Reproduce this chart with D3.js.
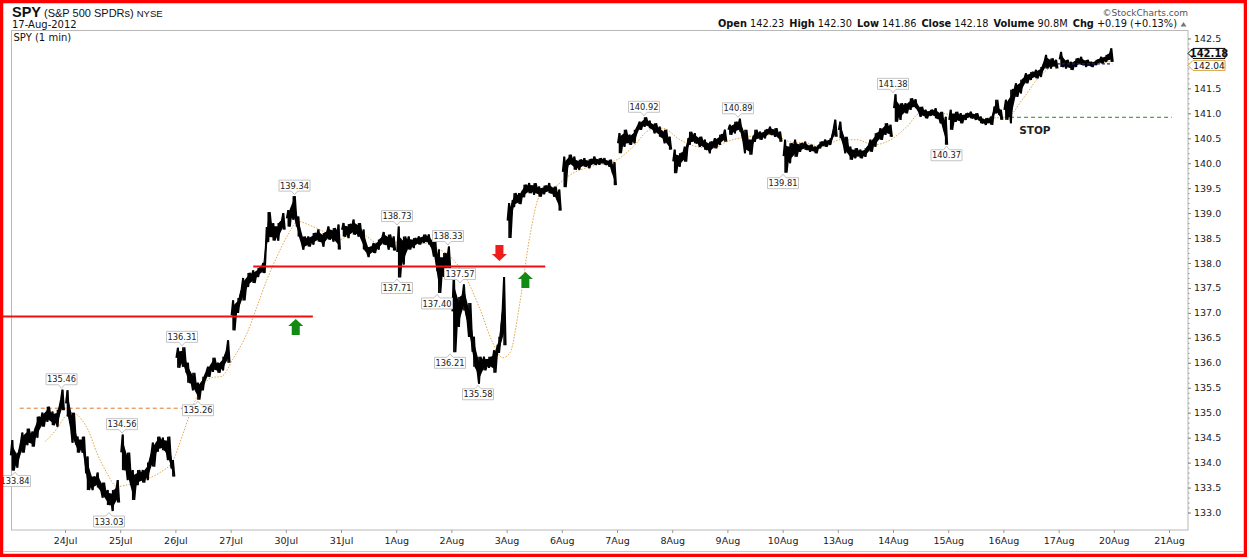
<!DOCTYPE html>
<html>
<head>
<meta charset="utf-8">
<script src="https://cdn.jsdelivr.net/npm/d3@7"></script>
<style>
  body { margin: 0; background: #fff; }
  svg { display: block; }
  text { font-family: "DejaVu Sans", Verdana, sans-serif; }
</style>
</head>
<body>
<svg id="chart" width="1247" height="557"></svg>
<script>
// trading sessions shown (first one is partly cut at the left edge)
const sessionNames = ['23Jul','24Jul','25Jul','26Jul','27Jul','30Jul','31Jul','1Aug','2Aug','3Aug',
  '6Aug','7Aug','8Aug','9Aug','10Aug','13Aug','14Aug','15Aug','16Aug','17Aug'];

// x axis labels, one per session boundary starting at 24Jul
const tickLabels = ['24Jul','25Jul','26Jul','27Jul','30Jul','31Jul','1Aug','2Aug','3Aug','6Aug','7Aug',
  '8Aug','9Aug','10Aug','13Aug','14Aug','15Aug','16Aug','17Aug','20Aug','21Aug'];

// 142.0 is hidden behind the last-value tags in the original, so it is left out
const priceTicks = [133.0,133.5,134.0,134.5,135.0,135.5,136.0,136.5,137.0,137.5,138.0,138.5,139.0,139.5,140.0,140.5,141.0,141.5,142.5];

// [high, low] for consecutive slices of each session
const sessions = [
  [[134.45,133.84],[134.2,133.9],[134.6,134.2],[134.68,134.35],[134.62,134.32],[134.92,134.5],[135.0,134.72],[135.12,134.82],[135.02,134.75],[135.06,134.72],[135.46,135.05]],
  [[135.45,134.92],[135.0,134.4],[134.52,134.2],[134.52,134.2],[134.12,133.45],[133.72,133.45],[133.8,133.5],[133.6,133.3],[133.45,133.15],[133.45,133.03],[133.65,133.2]],
  [[134.56,133.85],[134.2,133.65],[133.85,133.25],[133.85,133.55],[133.85,133.6],[134.0,133.65],[134.4,133.92],[134.52,134.22],[134.5,134.25],[134.52,134.05],[134.05,133.72]],
  [[136.3,135.9],[136.31,135.92],[136.0,135.6],[135.8,135.45],[135.6,135.26],[135.72,135.45],[135.92,135.72],[136.1,135.82],[136.0,135.8],[136.12,135.85],[136.45,136.0]],
  [[137.25,136.65],[137.3,137.0],[137.7,137.25],[137.8,137.52],[137.85,137.6],[137.9,137.72],[138.0,137.8],[139.02,138.42],[138.8,138.45],[138.8,138.45],[139.0,138.67]],
  [[139.06,138.73],[139.34,138.87],[138.93,138.53],[138.53,138.27],[138.53,138.33],[138.6,138.37],[138.67,138.43],[138.6,138.33],[138.73,138.47],[138.7,138.43],[138.77,138.27]],
  [[138.8,138.53],[138.78,138.5],[138.87,138.57],[138.8,138.53],[138.67,138.27],[138.32,138.12],[138.4,138.2],[138.47,138.27],[138.62,138.37],[138.57,138.27],[138.53,138.25]],
  [[138.73,137.71],[138.53,137.97],[138.53,138.27],[138.5,138.3],[138.53,138.37],[138.57,138.4],[138.57,138.37],[138.47,138.13],[138.27,137.4],[138.2,137.72],[138.33,137.85]],
  [[137.85,136.21],[137.32,136.72],[137.57,137.05],[137.2,136.52],[136.52,135.92],[136.12,135.58],[136.12,135.85],[136.12,135.9],[136.25,135.8],[136.52,136.2],[137.72,136.35]],
  [[139.2,138.5],[139.4,139.12],[139.4,139.18],[139.57,139.32],[139.6,139.4],[139.6,139.37],[139.53,139.33],[139.55,139.38],[139.6,139.4],[139.53,139.33],[139.47,139.05]],
  [[140.13,139.52],[140.17,139.97],[140.13,139.87],[140.07,139.87],[140.1,139.93],[140.08,139.9],[140.13,139.97],[140.1,139.97],[140.1,139.97],[140.07,139.93],[140.02,139.56]],
  [[140.6,140.2],[140.67,140.33],[140.57,140.37],[140.67,140.4],[140.83,140.67],[140.92,140.73],[140.85,140.7],[140.8,140.6],[140.73,140.53],[140.67,140.4],[140.53,140.27]],
  [[140.27,139.8],[140.2,139.93],[140.33,140.03],[140.63,140.37],[140.6,140.4],[140.53,140.33],[140.47,140.27],[140.43,140.2],[140.5,140.3],[140.57,140.37],[140.67,140.43]],
  [[140.77,140.57],[140.83,140.6],[140.89,140.63],[140.67,140.2],[140.47,140.17],[140.67,140.43],[140.63,140.47],[140.67,140.5],[140.73,140.57],[140.7,140.53],[140.63,140.43]],
  [[140.47,139.81],[140.4,140.0],[140.47,140.13],[140.4,140.23],[140.43,140.27],[140.37,140.23],[140.33,140.2],[140.43,140.3],[140.47,140.33],[140.5,140.37],[140.87,140.53]],
  [[140.83,140.5],[140.53,140.2],[140.33,140.07],[140.3,140.1],[140.27,140.1],[140.3,140.13],[140.47,140.23],[140.6,140.33],[140.7,140.47],[140.8,140.57],[140.77,140.53]],
  [[141.38,140.83],[141.2,140.87],[141.2,141.0],[141.3,141.07],[141.28,141.1],[141.13,140.93],[141.07,140.9],[141.07,140.95],[141.1,140.9],[141.03,140.8],[140.93,140.37]],
  [[141.07,140.67],[141.03,140.83],[141.0,140.8],[141.0,140.87],[141.03,140.9],[141.0,140.87],[140.93,140.8],[140.9,140.77],[140.93,140.77],[141.27,141.0],[141.07,140.87]],
  [[141.27,140.87],[141.47,140.8],[141.6,141.33],[141.67,141.4],[141.8,141.6],[141.83,141.67],[141.87,141.7],[141.93,141.73],[142.17,141.9],[142.1,141.9],[142.07,141.9]],
  [[142.23,141.93],[142.07,141.9],[142.03,141.87],[142.1,141.93],[142.13,141.97],[142.07,141.93],[142.03,141.93],[142.07,141.97],[142.13,142.0],[142.17,142.03],[142.3,142.03]]
];

// moving average overlay: [session position, value]
const maPoints = [
  [0.64,134.42],[0.86,134.69],[1.0,134.92],[1.13,135.0],[1.31,134.85],[1.42,134.65],[1.58,134.19],[1.76,133.79],[1.94,133.52],[2.12,133.55],[2.41,133.65],
  [2.72,133.8],[2.96,134.05],[3.12,134.52],[3.27,135.0],[3.45,135.45],[3.65,135.7],[3.84,135.73],[4.04,136.07],[4.3,136.6],[4.48,137.13],[4.66,137.67],
  [4.84,138.13],[5.02,138.53],[5.22,138.83],[5.49,138.73],[5.8,138.57],[5.98,138.47],[6.29,138.67],[6.47,138.53],[6.71,138.37],[6.89,138.43],[7.2,138.37],
  [7.49,138.4],[7.79,138.27],[8.03,138.07],[8.28,137.67],[8.52,137.07],[8.75,136.4],[8.93,136.1],[9.06,136.2],[9.24,137.2],[9.42,138.53],[9.61,139.37],
  [9.84,139.5],[10.2,139.8],[10.51,139.93],[11.0,140.07],[11.29,140.33],[11.6,140.67],[11.83,140.7],[12.14,140.47],[12.45,140.33],[12.74,140.3],
  [12.99,140.43],[13.36,140.53],[13.83,140.57],[14.13,140.43],[14.44,140.4],[14.73,140.33],[15.04,140.47],[15.35,140.47],[15.64,140.37],[15.89,140.43],
  [16.25,140.73],[16.49,141.0],[16.85,141.0],[17.21,140.93],[17.63,140.9],[18.07,140.93],[18.36,141.3],[18.65,141.73],[18.83,141.9],[18.97,141.98],
  [19.2,142.0],[19.6,142.01],[19.99,142.04]
];

// high / low call-outs
const callouts = [
  { t: 0.094, v: 133.84, dir: 'up' },
  { t: 0.937, v: 135.46, dir: 'down' },
  { t: 2.033, v: 134.56, dir: 'down' },
  { t: 1.797, v: 133.03, dir: 'up' },
  { t: 3.409, v: 135.26, dir: 'up' },
  { t: 3.12, v: 136.31, dir: 'down' },
  { t: 5.158, v: 139.34, dir: 'down' },
  { t: 7.014, v: 138.73, dir: 'down' },
  { t: 7.014, v: 137.71, dir: 'up' },
  { t: 7.938, v: 138.33, dir: 'down' },
  { t: 8.156, v: 137.57, dir: 'down' },
  { t: 7.739, v: 137.40, dir: 'up' },
  { t: 7.975, v: 136.21, dir: 'up' },
  { t: 8.482, v: 135.58, dir: 'up' },
  { t: 11.489, v: 140.92, dir: 'down' },
  { t: 13.192, v: 140.89, dir: 'down' },
  { t: 14.007, v: 139.81, dir: 'up' },
  { t: 16.0, v: 141.38, dir: 'down' },
  { t: 16.969, v: 140.37, dir: 'up' }
];

// drawn trend levels: [from, to, price]
const redLevels = [[-0.18, 5.49, 136.93], [4.41, 9.7, 137.93]];
const orangeLevel = [0.18, 3.14, 135.09];
const stopLevel = [18.12, 21.05, 140.92];
const blueLevel = [18.97, 19.97, 141.99];

// arrows: position and the price at their tip
const upArrows = [[5.18, 136.88], [9.34, 137.82]];
const downArrows = [[8.87, 138.04]];

const quoteFields = [['Open','142.23'],['High','142.30'],['Low','141.86'],['Close','142.18'],['Volume','90.8M'],['Chg','+0.19 (+0.13%)']];
const lastClose = 142.18;
const lastMA = 142.04;

const svg = d3.select('#chart');
const W = +svg.attr('width'), H = +svg.attr('height');

const plot = { left: 11.5, top: 30.5, right: 1188, bottom: 530 };

const x = d3.scaleLinear().domain([0, 21]).range([9.8, 1169]);
const y = d3.scaleLinear().domain([133, 142.5]).range([512.5, 38.45]);

svg.append('rect').attr('width', W).attr('height', H).attr('fill', '#fff');

// plot frame
svg.append('rect')
  .attr('x', plot.left).attr('y', plot.top)
  .attr('width', plot.right - plot.left).attr('height', plot.bottom - plot.top)
  .attr('fill', 'none').attr('stroke', '#b9b9b9').attr('stroke-width', 1);

// header
const head = svg.append('g');
const t1 = head.append('text').attr('x', 12).attr('y', 17).attr('fill', '#111');
t1.append('tspan').attr('font-family', '"Liberation Sans", Arial').attr('font-weight', 'bold').attr('font-size', 14.5).text('SPY');
t1.append('tspan').attr('font-family', '"Liberation Sans", Arial').attr('font-size', 11).attr('dx', 3).text('(S&P 500 SPDRs)');
t1.append('tspan').attr('font-family', '"Liberation Sans", Arial').attr('font-size', 9.5).attr('dx', 3).text('NYSE');
head.append('text').attr('x', 12).attr('y', 27.5)
  .attr('font-family', '"Liberation Sans", Arial').attr('font-size', 10).attr('fill', '#111').text('17-Aug-2012');
head.append('text').attr('x', 13.5).attr('y', 41)
  .attr('font-family', '"DejaVu Sans Mono", monospace').attr('font-size', 10).attr('fill', '#111').text('SPY (1 min)');
head.append('text').attr('x', 1188).attr('y', 15.5).attr('text-anchor', 'end')
  .attr('font-family', '"DejaVu Sans", sans-serif').attr('font-size', 9).attr('fill', '#555').text('\u00a9StockCharts.com');

const quote = head.append('text').attr('x', 1177).attr('y', 27).attr('text-anchor', 'end')
  .attr('font-family', '"Liberation Sans", Arial').attr('font-size', 9.8).attr('fill', '#111');
quoteFields.forEach(([k, v], i) => {
  quote.append('tspan').attr('font-weight', 'bold').attr('dx', i ? 5 : 0).text(k);
  quote.append('tspan').attr('dx', 3).text(v);
});
head.append('path').attr('d', 'M1180.5,26.5 L1186.5,26.5 L1183.5,22 Z').attr('fill', '#777');

// right price axis
const yAxis = d3.axisRight(y).tickValues(priceTicks).tickFormat(d3.format('.1f')).tickSize(3).tickPadding(3);
const yMinor = d3.axisRight(y).tickValues(d3.range(1330, 1426, 1).map(d => d / 10)).tickSize(1.5).tickFormat('');
svg.append('g').attr('transform', `translate(${plot.right},0)`).call(yMinor)
  .call(g => g.select('.domain').remove())
  .selectAll('line').attr('stroke', '#999');
svg.append('g').attr('transform', `translate(${plot.right},0)`).call(yAxis)
  .call(g => g.select('.domain').remove())
  .call(g => g.selectAll('line').attr('stroke', '#888'))
  .call(g => g.selectAll('text').attr('font-size', 9.5).attr('fill', '#222')
    .attr('font-family', '"DejaVu Sans", sans-serif'));

// bottom date axis
const xAxis = d3.axisBottom(x).tickValues(d3.range(1, 22)).tickFormat((d, i) => tickLabels[i]).tickSize(3).tickPadding(4);
svg.append('g').attr('transform', `translate(0,${plot.bottom})`).call(xAxis)
  .call(g => g.select('.domain').remove())
  .call(g => g.selectAll('line').attr('stroke', '#999'))
  .call(g => g.selectAll('text').attr('font-size', 9.5).attr('fill', '#222')
    .attr('font-family', '"DejaVu Sans", sans-serif'));

// reference levels
svg.append('line')
  .attr('x1', x(orangeLevel[0])).attr('x2', x(orangeLevel[1]))
  .attr('y1', y(orangeLevel[2])).attr('y2', y(orangeLevel[2]))
  .attr('stroke', '#e07a30').attr('stroke-width', 1).attr('stroke-dasharray', '4,3');
svg.append('line')
  .attr('x1', x(stopLevel[0])).attr('x2', x(stopLevel[1]))
  .attr('y1', y(stopLevel[2])).attr('y2', y(stopLevel[2]))
  .attr('stroke', '#2a8a2a').attr('stroke-width', 1).attr('stroke-dasharray', '4,3');
svg.append('text').attr('x', x(18.57)).attr('y', y(140.92) + 17).attr('text-anchor', 'middle')
  .attr('font-family', '"Liberation Sans", Arial').attr('font-weight', 'bold').attr('font-size', 10.5)
  .attr('fill', '#222').text('STOP');

// moving average
const maLine = d3.line().x(d => x(d[0])).y(d => y(d[1])).curve(d3.curveMonotoneX);
svg.append('path').attr('d', maLine(maPoints))
  .attr('fill', 'none').attr('stroke', '#e2a648').attr('stroke-width', 1).attr('stroke-dasharray', '1.5,1.5');

// price, one band per session: hi/lo range filled, with a jagged trace on top
const priceLine = d3.line().x(d => x(d[0])).y(d => y(d[1]));
const priceArea = d3.area()
  .x(d => x(d.t))
  .y0(d => y(d.lo + (d.hi - d.lo) * 0.18))
  .y1(d => y(d.hi - (d.hi - d.lo) * 0.18));
const priceG = svg.append('g');
sessions.forEach((seg, i) => {
  const n = seg.length;
  const pts = [];
  seg.forEach(([hi, lo], j) => {
    const a = i + (j + 0.2) / n, b = i + (j + 0.5) / n, c = i + (j + 0.8) / n;
    if (j % 2 === 0) { pts.push([a, (hi + lo) / 2], [b, hi], [c, lo]); }
    else { pts.push([a, (hi + lo) / 2], [b, lo], [c, hi]); }
  });
  const band = seg.map(([hi, lo], j) => ({ t: i + (j + 0.5) / n, hi, lo }));
  priceG.append('path').attr('d', priceArea(band)).attr('fill', '#000');
  priceG.append('path').attr('d', priceLine(pts))
    .attr('fill', 'none').attr('stroke', '#000').attr('stroke-width', 2).attr('stroke-linejoin', 'bevel');
  priceG.selectAll(null).data(seg).enter().append('line')
    .attr('x1', (d, j) => x(i + (j + 0.5) / n)).attr('x2', (d, j) => x(i + (j + 0.5) / n))
    .attr('y1', d => y(d[0])).attr('y2', d => y(d[1]))
    .attr('stroke', '#000').attr('stroke-width', 1.6);
});

svg.append('line')
  .attr('x1', x(blueLevel[0])).attr('x2', x(blueLevel[1]))
  .attr('y1', y(blueLevel[2])).attr('y2', y(blueLevel[2]))
  .attr('stroke', '#1c1c80').attr('stroke-width', 1.2).attr('stroke-dasharray', '3,2');

// red trend levels
svg.selectAll('.red-level').data(redLevels).enter().append('line')
  .attr('class', 'red-level')
  .attr('x1', d => x(d[0])).attr('x2', d => x(d[1]))
  .attr('y1', d => y(d[2])).attr('y2', d => y(d[2]))
  .attr('stroke', '#f01010').attr('stroke-width', 2);

// arrows
const arrowUp = 'M0,0 L7.5,7 L4,7 L4,16 L-4,16 L-4,7 L-7.5,7 Z';
svg.selectAll('.up-arrow').data(upArrows).enter().append('path')
  .attr('class', 'up-arrow')
  .attr('transform', d => `translate(${x(d[0])},${y(d[1])})`)
  .attr('d', arrowUp).attr('fill', '#138a13');
svg.selectAll('.down-arrow').data(downArrows).enter().append('path')
  .attr('class', 'down-arrow')
  .attr('transform', d => `translate(${x(d[0])},${y(d[1])}) scale(1,-1)`)
  .attr('d', arrowUp).attr('fill', '#f01c1c');

// call-out boxes
const bw = 31, bh = 11, gap = 5, tab = 3.5;
const co = svg.selectAll('.callout').data(callouts).enter().append('g')
  .attr('class', 'callout')
  .attr('transform', d => `translate(${x(d.t)},${y(d.v)})`);
co.append('path')
  .attr('d', d => {
    const h = bw / 2;
    if (d.dir === 'down') {
      const b = -gap, t = b - bh;
      return `M${-h},${t} H${h} V${b} H3 L0,${b + tab} L-3,${b} H${-h} Z`;
    }
    const t = gap, b = t + bh;
    return `M${-h},${t} H-3 L0,${t - tab} L3,${t} H${h} V${b} H${-h} Z`;
  })
  .attr('fill', '#fff').attr('stroke', '#c4c4c4').attr('stroke-width', 1);
co.append('text')
  .attr('y', d => d.dir === 'down' ? -gap - 2.3 : gap + bh - 2.3)
  .attr('text-anchor', 'middle')
  .attr('font-size', 8.3).attr('fill', '#222')
  .text(d => d.v.toFixed(2));

// last value tags on the right (MA tag first so the close tag sits on top)
const tag = (val, bold, stroke, dy) => {
  const g = svg.append('g').attr('transform', `translate(${plot.right},${y(val) + dy})`);
  g.append('path').attr('d', 'M0,0 L5,-5 H37 V5 H5 Z')
    .attr('fill', '#fff').attr('stroke', stroke).attr('stroke-width', 1);
  g.append('text').attr('x', 21).attr('y', 3.5).attr('text-anchor', 'middle')
    .attr('font-family', '"Liberation Sans", Arial')
    .attr('font-size', bold ? 10 : 9).attr('font-weight', bold ? 'bold' : 'normal').attr('fill', '#111')
    .text(val.toFixed(2));
};
tag(lastMA, false, '#d9a441', 4);
tag(lastClose, true, '#000', -1);

// outer red frame
svg.append('line').attr('x1', 4).attr('x2', W - 4).attr('y1', 551.5).attr('y2', 551.5).attr('stroke', '#c8c8c8');
svg.append('rect').attr('x', 1.5).attr('y', 1.5).attr('width', W - 3).attr('height', H - 3)
  .attr('fill', 'none').attr('stroke', '#f00').attr('stroke-width', 3.5);
</script>
</body>
</html>
